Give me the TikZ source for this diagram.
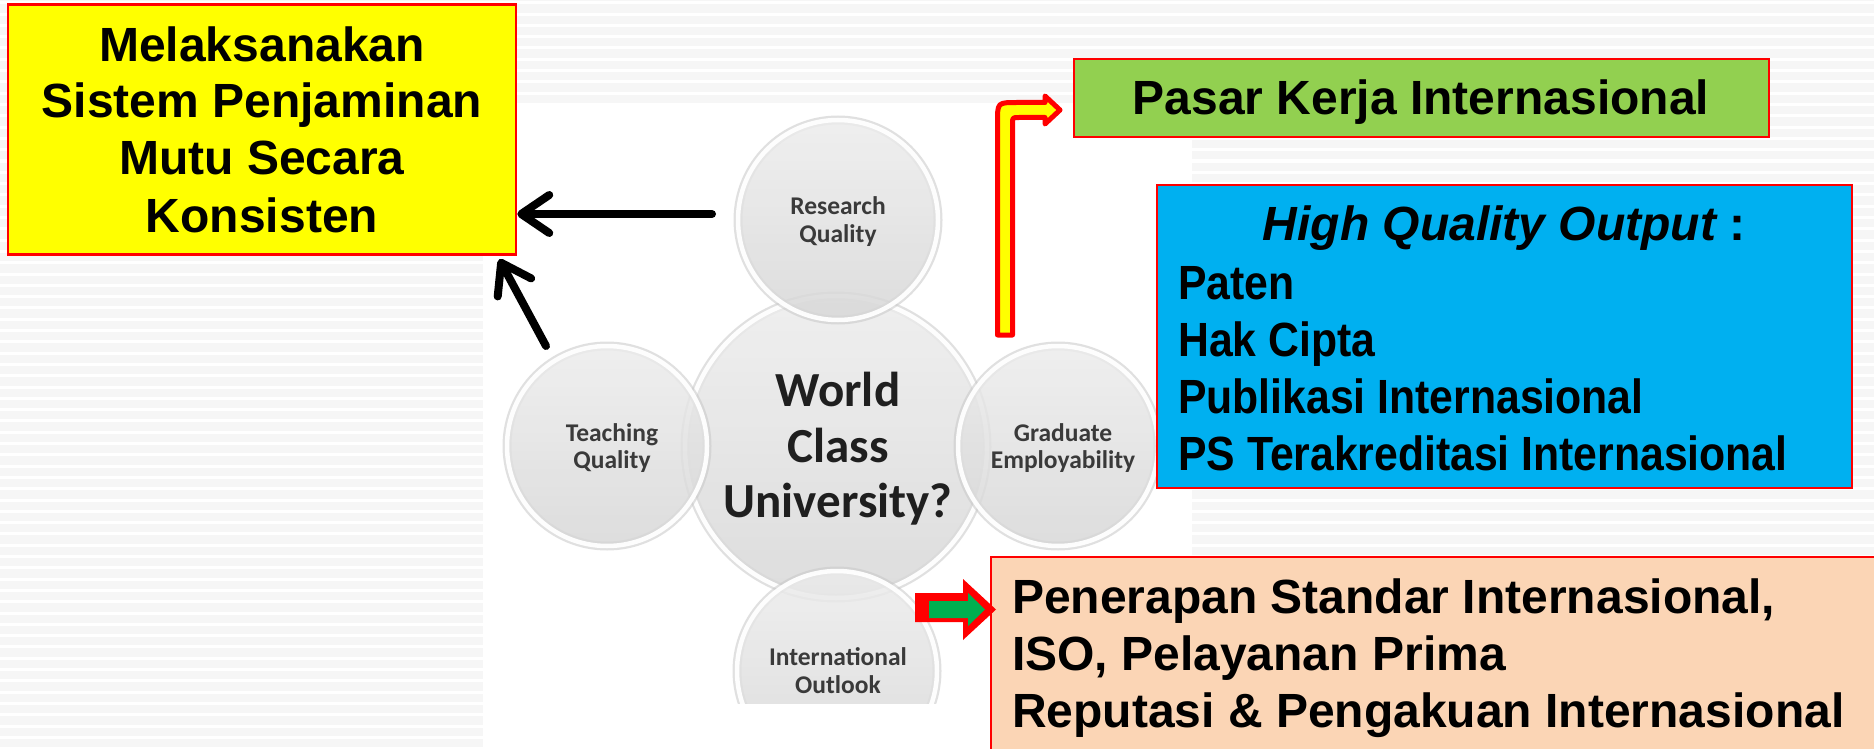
\documentclass[tikz,border=0pt]{standalone}
\usepackage{fontspec}
\setmainfont{Liberation Sans}
\newfontfamily\narrowfont[FakeStretch=0.89]{Liberation Sans}
\newfontfamily\calfont{Carlito}
\usetikzlibrary{arrows.meta}
\definecolor{boxred}{HTML}{FF0000}
\definecolor{byellow}{HTML}{FFFF00}
\definecolor{bgreen}{HTML}{92D050}
\definecolor{bblue}{HTML}{00B0F0}
\definecolor{bpeach}{HTML}{FBD5B5}
\definecolor{stripegray}{HTML}{F6F6F6}
\definecolor{lblgray}{HTML}{3A3A3A}
\definecolor{arrowgreen}{HTML}{00B050}
\definecolor{sphtop}{HTML}{ECECEC}
\definecolor{sphbot}{HTML}{D6D6D6}
\definecolor{sphedge}{HTML}{C8C8C8}
\begin{document}
\begin{tikzpicture}[x=1pt,y=-1pt,
  box/.style={draw=boxred, line width=2.5pt, inner sep=0pt},
  bigtxt/.style={font=\fontsize{48}{57}\selectfont\bfseries, inner sep=0pt, text=black},
  listtxt/.style={font=\fontsize{48}{57}\selectfont\narrowfont\bfseries, inner sep=0pt, text=black, anchor=base west},
  sphere/.style={circle, inner sep=0pt, draw=white, line width=4.5pt,
    top color=sphtop, bottom color=sphbot, fill opacity=0.82, draw opacity=0.95,
    preaction={draw=sphedge, line width=9pt, draw opacity=0.55}},
  smalllbl/.style={font=\fontsize{25.5}{28}\selectfont\calfont\bfseries, text=lblgray, inner sep=0pt, anchor=base},
  biglbl/.style={font=\fontsize{49}{56}\selectfont\calfont\bfseries, text=black!88, inner sep=0pt, anchor=base},
  blackarrow/.style={line width=8pt, line cap=round, line join=round, -{Straight Barb[length=28pt,width=38pt,round]}}
]
\useasboundingbox (0,0) rectangle (1874,749);
\clip (0,0) rectangle (1874,749);
% striped background
\fill[stripegray] (0,0) rectangle (1874,749);
\foreach \k in {0,...,66} \fill[white] (0,{1.3+11.3*\k}) rectangle (1874,{4.3+11.3*\k});
\fill[white] (483,106) rectangle (1192,749);

% spheres
\begin{scope}
\clip (483,106) rectangle (1192,703);
\node[sphere, minimum size=302pt] (wcu) at (836,447) {};
\node[sphere, minimum size=200pt] (rq) at (838,220) {};
\node[sphere, minimum size=200pt] (tq) at (607,446) {};
\node[sphere, minimum size=200pt] (ge) at (1058,446) {};
\node[sphere, minimum size=200pt] (io) at (837,671) {};
\node[biglbl] (wcu1) at (838,406) {World};
\node[biglbl] (wcu2) at (838,462) {Class};
\node[biglbl] (wcu3) at (838,517) {University?};
\node[smalllbl] (rq1) at (838,214) {Research};
\node[smalllbl] (rq2) at (838,242) {Quality};
\node[smalllbl] (tq1) at (612,441) {Teaching};
\node[smalllbl] (tq2) at (612,468) {Quality};
\node[smalllbl] (ge1) at (1063,441) {Graduate};
\node[smalllbl] (ge2) at (1063,468) {Employability};
\node[smalllbl] (io1) at (838,665) {International};
\node[smalllbl] (io2) at (838,693) {Outlook};
\end{scope}

% yellow box
\node[box, fill=byellow, minimum width=508pt, minimum height=250pt] (ybox) at (262,129.5) {};
\node[bigtxt, anchor=base] (y1) at (262,62) {Melaksanakan};
\node[bigtxt, anchor=base] (y2) at (262,118) {Sistem Penjaminan};
\node[bigtxt, anchor=base] (y3) at (262,175) {Mutu Secara};
\node[bigtxt, anchor=base] (y4) at (262,232) {Konsisten};

% green box
\node[box, fill=bgreen, minimum width=695pt, minimum height=78pt] (gbox) at (1421.5,98) {};
\node[bigtxt, anchor=base] (g1) at (1421,115) {Pasar Kerja Internasional};

% blue box
\node[box, fill=bblue, minimum width=695pt, minimum height=303pt] (bbox) at (1504.5,336.5) {};
\node[bigtxt, anchor=base] (b0) at (1504,240) {\itshape High Quality Output\upshape{} :};
\node[listtxt] (b1) at (1178,299) {Paten};
\node[listtxt] (b2) at (1178,356) {Hak Cipta};
\node[listtxt] (b3) at (1178,413) {Publikasi Internasional};
\node[listtxt] (b4) at (1178,470) {PS Terakreditasi Internasional};

% peach box
\node[box, fill=bpeach, minimum width=899pt, minimum height=213pt] (pbox) at (1440.5,663.5) {};
\node[bigtxt, anchor=base west] (p1) at (1012,613) {Penerapan Standar Internasional,};
\node[bigtxt, anchor=base west] (p2) at (1012,670) {ISO, Pelayanan Prima};
\node[bigtxt, anchor=base west] (p3) at (1012,727) {Reputasi \& Pengakuan Internasional};

% black arrows
\coordinate (t1) at (712,214);
\coordinate (t2) at (546,346);
\draw[blackarrow] (t1) -- (t1 -| ybox.east);
\draw[blackarrow] (t2) -- ([xshift=-18pt,yshift=-3.5pt]ybox.south east);

% bent yellow arrow
\filldraw[fill=byellow, draw=boxred, line width=5pt, line join=round]
  (997.5,335) -- (997.5,122) .. controls (997.5,102.5) .. (1017,102.5)
  -- (1045,102.5) -- (1045,96) -- (1060,110) -- (1045,124) -- (1045,117.5)
  -- (1019,117.5) .. controls (1012.5,117.5) .. (1012.5,124) -- (1012.5,335) -- cycle;

% green block arrow
\fill[boxred] (915,593) -- (963,593) -- (963,579) -- (996,609.5) -- (963,640) -- (963,622) -- (915,622) -- cycle;
\fill[arrowgreen] (929,601) -- (968,601) -- (968,593) -- (985,609.5) -- (968,626) -- (968,618) -- (929,618) -- cycle;
\end{tikzpicture}
\end{document}
